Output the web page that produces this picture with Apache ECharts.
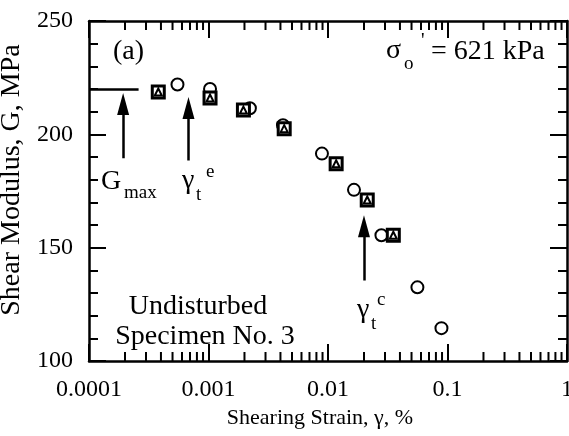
<!DOCTYPE html>
<html>
<head>
<meta charset="utf-8">
<script src="https://cdn.jsdelivr.net/npm/echarts@6/dist/echarts.min.js"></script>
<style>
html,body{margin:0;padding:0;background:#fff;}
#chart{width:569px;height:436px;}
</style>
</head>
<body>
<div id="chart"></div>
<script>
// ---- data ----
var circleStrain = [0.00055, 0.00103, 0.00222, 0.0042, 0.0089, 0.0165, 0.028, 0.056, 0.089];
var circleG      = [222, 220, 211.5, 204, 191.5, 175.5, 155.5, 132.5, 114.5];
var squareStrain = [0.00038, 0.00103, 0.00196, 0.0043, 0.0117, 0.0213, 0.0352];
var squareG      = [218.7, 216, 210.7, 202.5, 187, 171, 155.5];
var triangleStrain = [0.00038, 0.00103, 0.00196, 0.0043, 0.0117, 0.0213, 0.0352];
var triangleG      = [218.7, 216, 210.7, 202.5, 187, 171, 155.5];

var xTickLabels = ['0.0001', '0.001', '0.01', '0.1', '1'];
var yTickLabels = ['100', '150', '200', '250'];

// annotation values (strain, G)
var gmaxLine = [[0.0001, 220], [0.00026, 220]];
var arrowGmax = [[0.000193, 189.5], [0.000193, 213.4]];
var arrowGte  = [[0.00068, 188.5], [0.00068, 211.6]];
var arrowGtc  = [[0.0200, 135.5], [0.0200, 159.5]];

// minor tick values of the log axis
var decades = [0.0001, 0.001, 0.01, 0.1];
var minorMult = [2, 3, 4, 5, 6, 7, 8, 9];
var minorX = [];
decades.forEach(function (d) { minorMult.forEach(function (m) { minorX.push([d * m, 100]); }); });

function zip(a, b) { return a.map(function (v, i) { return [v, b[i]]; }); }

var FONT = 'Liberation Serif';
var chart = echarts.init(document.getElementById('chart'), null, {renderer: 'canvas'});

function xAxisBase(pos, showLabel) {
  return {
    type: 'log', logBase: 10, min: 0.0001, max: 1, position: pos,
    axisLine: {show: true, onZero: false, lineStyle: {color: '#000', width: 2.5}},
    axisTick: {show: true, inside: true, length: 17, lineStyle: {color: '#000', width: 2}},
    axisLabel: {show: showLabel, color: '#000', fontSize: 24, fontFamily: FONT, margin: 17,
      formatter: function (v) {
        var i = Math.round(Math.log10(v) + 4);
        return xTickLabels[i] !== undefined ? xTickLabels[i] : '';
      }},
    splitLine: {show: false}
  };
}
function yAxisBase(pos, showLabel) {
  return {
    type: 'value', min: 100, max: 250, interval: 50, position: pos,
    axisLine: {show: true, onZero: false, lineStyle: {color: '#000', width: 2.5}},
    axisTick: {show: true, inside: true, length: 17, lineStyle: {color: '#000', width: 2}},
    minorTick: {show: true, splitNumber: 5, length: 9, lineStyle: {color: '#000', width: 2}},
    axisLabel: {show: showLabel, color: '#000', fontSize: 24, fontFamily: FONT, margin: 16,
      formatter: function (v) { var i = Math.round((v - 100) / 50); return yTickLabels[i]; }},
    splitLine: {show: false}
  };
}

var xb = xAxisBase('bottom', true);
xb.name = 'Shearing Strain, \u03b3, %';
xb.nameLocation = 'middle';
xb.nameGap = 40;
xb.nameTextStyle = {color: '#000', fontSize: 22, fontFamily: FONT, padding: [0, 16, 0, 0]};
var yl = yAxisBase('left', true);
yl.name = 'Shear Modulus, G, MPa';
yl.nameLocation = 'middle';
yl.nameGap = 54;
yl.nameTextStyle = {color: '#000', fontSize: 28, fontFamily: FONT, padding: [0, 0, 0, 22]};

function txt(x, y, s, size, align) {
  return {type: 'text', x: x, y: y, silent: true, z: 100,
    style: {text: s, fill: '#000', fontSize: size, fontFamily: FONT,
      align: align || 'left', verticalAlign: 'middle'}};
}

var option = {
  backgroundColor: '#fff',
  animation: false,
  grid: {left: 89, right: 2, top: 21, bottom: 75, containLabel: false, outerBoundsMode: 'none'},
  xAxis: [xb, xAxisBase('top', false)],
  yAxis: [yl, yAxisBase('right', false)],
  series: [
    {
      type: 'custom', xAxisIndex: 0, yAxisIndex: 0, clip: false, silent: true, z: 5,
      data: minorX,
      renderItem: function (params, api) {
        var v = api.value(0);
        var b = api.coord([v, 100]);
        var t = api.coord([v, 250]);
        return {type: 'group', children: [
          {type: 'line', shape: {x1: b[0], y1: b[1], x2: b[0], y2: b[1] - 9}, style: {stroke: '#000', lineWidth: 2}},
          {type: 'line', shape: {x1: t[0], y1: t[1], x2: t[0], y2: t[1] + 9}, style: {stroke: '#000', lineWidth: 2}}
        ]};
      }
    },
    {
      type: 'scatter', name: 'circle', data: zip(circleStrain, circleG),
      symbol: 'circle', symbolSize: 12, z: 3,
      itemStyle: {color: '#fff', borderColor: '#000', borderWidth: 2, opacity: 1}
    },
    {
      type: 'scatter', name: 'square', data: zip(squareStrain, squareG),
      symbol: 'rect', symbolSize: 12, z: 4,
      itemStyle: {color: '#fff', borderColor: '#000', borderWidth: 3, opacity: 1}
    },
    {
      type: 'scatter', name: 'triangle', data: zip(triangleStrain, triangleG),
      symbol: 'triangle', symbolSize: 7, z: 6,
      itemStyle: {color: '#fff', borderColor: '#000', borderWidth: 2, opacity: 1}
    },
    {
      type: 'lines', coordinateSystem: 'cartesian2d', silent: true, z: 7,
      symbol: ['none', 'none'],
      lineStyle: {color: '#000', width: 2.5, opacity: 1, curveness: 0},
      data: [{coords: gmaxLine}]
    },
    {
      type: 'lines', coordinateSystem: 'cartesian2d', silent: true, z: 7,
      symbol: ['none', 'triangle'], symbolSize: [0, [12, 22]],
      lineStyle: {color: '#000', width: 2.5, opacity: 1, curveness: 0},
      itemStyle: {color: '#000'},
      data: [{coords: arrowGmax}, {coords: arrowGte}, {coords: arrowGtc}]
    }
  ],
  graphic: [
    txt(113, 52, '(a)', 28),
    txt(386, 51, '\u03c3', 28),
    txt(404, 64, 'o', 19),
    txt(421, 42, "'", 20),
    txt(431, 52, '= 621 kPa', 28),
    txt(101, 182, 'G', 28),
    txt(124, 193, 'max', 19),
    txt(182, 181, '\u03b3', 28),
    txt(196, 195, 't', 19),
    txt(206, 172, 'e', 19),
    txt(357, 310, '\u03b3', 28),
    txt(371, 324, 't', 19),
    txt(377, 300, 'c', 19),
    txt(198, 307, 'Undisturbed', 28, 'center'),
    txt(205, 337, 'Specimen No. 3', 28, 'center')
  ]
};
chart.setOption(option);
</script>
</body>
</html>
